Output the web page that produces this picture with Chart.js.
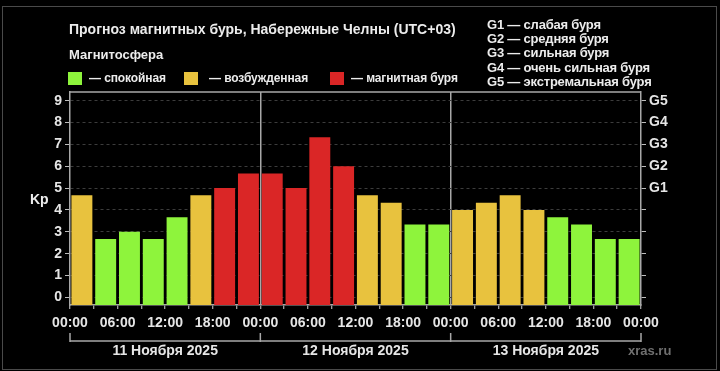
<!DOCTYPE html>
<html><head><meta charset="utf-8">
<script src="https://cdn.jsdelivr.net/npm/chart.js@4/dist/chart.umd.min.js"></script>
<style>
html,body{margin:0;padding:0;background:#000;}
#wrap{position:relative;width:720px;height:371px;overflow:hidden;background:#000;font-family:"Liberation Sans",Arial,sans-serif;font-weight:bold;color:#ececec;}
canvas{position:absolute;left:0;top:0;}
.frame{position:absolute;left:2px;top:6px;width:715px;height:364px;border:1px solid #4a4a4a;box-sizing:border-box;}
.t{position:absolute;white-space:nowrap;line-height:1;}
.lg{font-size:12px;letter-spacing:-0.1px;}
.sw{position:absolute;width:14px;height:13px;}
</style></head>
<body><div id="wrap">
<div class="frame"></div>
<canvas id="c" width="720" height="371"></canvas>
<div class="t" style="left:69px;top:22px;font-size:14px;">Прогноз магнитных бурь, Набережные Челны (UTC+03)</div>
<div class="t" style="left:69px;top:48px;font-size:13px;">Магнитосфера</div>
<div class="sw" id="sw0" style="left:68px;top:72px;"></div>
<div class="t lg" style="left:89px;top:72px;">— спокойная</div>
<div class="sw" id="sw1" style="left:184px;top:72px;"></div>
<div class="t lg" style="left:209px;top:72px;">— возбужденная</div>
<div class="sw" id="sw2" style="left:330px;top:72px;"></div>
<div class="t lg" style="left:351px;top:72px;">— магнитная буря</div>
<div id="glist"></div>
<div class="t" style="left:628px;top:344px;font-size:13px;color:#707070;">xras.ru</div>
<div class="t" style="left:30px;top:192px;font-size:14px;">Kp</div>
</div>
<script>
// ---- data ----
const dayLabels = ['11 Ноября 2025', '12 Ноября 2025', '13 Ноября 2025'];
const timeTickLabels = ['00:00','06:00','12:00','18:00','00:00','06:00','12:00','18:00','00:00','06:00','12:00','18:00','00:00'];
const kpValues = [4.67, 2.67, 3.00, 2.67, 3.67, 4.67, 5.00, 5.67,
                  5.67, 5.00, 7.33, 6.00, 4.67, 4.33, 3.33, 3.33,
                  4.00, 4.33, 4.67, 4.00, 3.67, 3.33, 2.67, 2.67];
const yTickValues = [0,1,2,3,4,5,6,7,8,9];
const gLevelLabels = ['G1','G2','G3','G4','G5'];
const gLevelText = ['G1 — слабая буря','G2 — средняя буря','G3 — сильная буря','G4 — очень сильная буря','G5 — экстремальная буря'];
const statusColors = ['#8ef43c', '#e8c23e', '#da2626'];

// ---- presentation ----
const FONT = '"Liberation Sans", Arial, sans-serif';
const Y_MIN = -0.35, Y_MAX = 9.4;
const TXT = '#e6e6e6', AXIS = '#a8a8a8';

statusColors.forEach((c,i)=>{document.getElementById('sw'+i).style.background=c;});
const gl = document.getElementById('glist');
gLevelText.forEach((s,i)=>{
  const d=document.createElement('div'); d.className='t';
  d.style.cssText='left:487px;top:'+(18+i*14.2)+'px;font-size:13px;letter-spacing:-0.2px;';
  d.textContent=s; gl.appendChild(d);
});

const colorFor = v => v >= 5 ? statusColors[2] : (v >= 4 ? statusColors[1] : statusColors[0]);
const points = kpValues.map((v,i)=>({x:i+0.5, y:v}));
const nSlots = kpValues.length, perDay = nSlots / dayLabels.length;

const extras = {
  id:'extras',
  afterDraw(chart){
    const {ctx, chartArea:a, scales:{x}} = chart;
    ctx.save();
    ctx.strokeStyle = AXIS; ctx.lineWidth = 1.5;
    ctx.beginPath(); ctx.moveTo(a.left, a.top); ctx.lineTo(a.right, a.top); ctx.stroke();
    const yTop = a.bottom + 28, yLine = a.bottom + 36;
    ctx.beginPath();
    ctx.moveTo(x.getPixelForValue(0), yLine); ctx.lineTo(x.getPixelForValue(nSlots), yLine);
    for (let d=0; d<=dayLabels.length; d++){
      const px = x.getPixelForValue(d*perDay);
      ctx.moveTo(px, yTop); ctx.lineTo(px, yLine+1);
    }
    ctx.stroke();
    ctx.fillStyle = TXT; ctx.font = 'bold 14px '+FONT;
    ctx.textAlign='center'; ctx.textBaseline='middle';
    dayLabels.forEach((t,d)=>{
      ctx.fillText(t, x.getPixelForValue(d*perDay + perDay/2), a.bottom + 46);
    });
    ctx.restore();
  }
};

new Chart(document.getElementById('c'), {
  type:'bar',
  data:{datasets:[{
    data: points,
    backgroundColor: kpValues.map(colorFor),
    base: Y_MIN,
    barPercentage: 0.88,
    categoryPercentage: 1,
    borderWidth: 0,
    xAxisID:'x', yAxisID:'y'
  }]},
  options:{
    responsive:false, animation:false, devicePixelRatio:1,
    layout:{padding:{left:0,right:0,top:92,bottom:0}},
    plugins:{legend:{display:false}, tooltip:{enabled:false}},
    scales:{
      x:{
        type:'linear', min:0, max:nSlots, position:'bottom', offset:false,
        afterBuildTicks: s => { s.ticks = Array.from({length:nSlots+1},(_,i)=>({value:i})); },
        afterFit: s => { s.height = 66; },
        ticks:{autoSkip:false, maxRotation:0, minRotation:0, padding:6, color:TXT,
          font:{size:14, weight:'bold', family:FONT},
          callback:(v)=> (v % 2 === 0) ? timeTickLabels[v/2] : ''},
        grid:{
          offset:false,
          color: c => (c.tick && c.tick.value % perDay === 0 && c.tick.value > 0 && c.tick.value < nSlots) ? AXIS : 'rgba(0,0,0,0)',
          lineWidth:1.5, tickColor:'#d0d0d0', tickLength:4, tickWidth:1, drawOnChartArea:true
        },
        border:{display:true, color:AXIS, width:1.5}
      },
      y:{
        type:'linear', min:Y_MIN, max:Y_MAX, position:'left',
        afterBuildTicks: s => { s.ticks = yTickValues.map(v=>({value:v})); },
        afterFit: s => { s.width = 70; },
        ticks:{padding:3, color:TXT, font:{size:14, weight:'bold', family:FONT}, callback:v=>String(v)},
        grid:{color:'#3c3c3c', lineWidth:1, tickColor:'#bdbdbd', tickLength:5, drawOnChartArea:true},
        border:{display:true, color:AXIS, width:1.5, dash:[3,3]}
      },
      y2:{
        type:'linear', min:Y_MIN, max:Y_MAX, position:'right',
        afterBuildTicks: s => { s.ticks = yTickValues.map(v=>({value:v})); },
        afterFit: s => { s.width = 79; },
        ticks:{padding:3, color:TXT, font:{size:14, weight:'bold', family:FONT},
          callback:v => v >= 5 ? gLevelLabels[v-5] : ''},
        grid:{drawOnChartArea:false, tickColor:'#bdbdbd', tickLength:5},
        border:{display:true, color:AXIS, width:1.5}
      }
    }
  },
  plugins:[extras]
});
</script>
</body></html>
